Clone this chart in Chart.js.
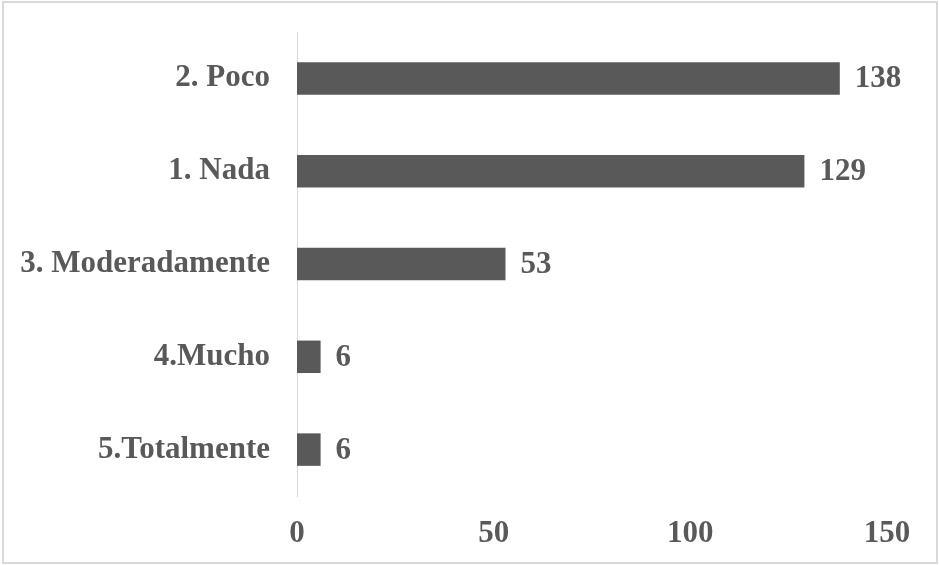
<!DOCTYPE html>
<html>
<head>
<meta charset="utf-8">
<script src="https://cdn.jsdelivr.net/npm/chart.js@4/dist/chart.umd.min.js"></script>
<style>
  body { margin: 0; background: #fff; }
  canvas { display: block; }
</style>
</head>
<body>
<canvas id="chart" width="939" height="565"></canvas>
<script>
const categories = ['2. Poco', '1. Nada', '3. Moderadamente', '4.Mucho', '5.Totalmente'];
const counts = [138, 129, 53, 6, 6];
const xTicks = [0, 50, 100, 150];

const textColor = '#595959';
const barColor = '#595959';
const font = { family: '"Liberation Serif", "Times New Roman", serif', size: 31, weight: 'bold' };

// light frame round the whole chart
const framePlugin = {
    id: 'frame',
    beforeDraw(chart) {
        const c = chart.ctx;
        c.save();
        c.fillStyle = '#fff';
        c.fillRect(0, 0, chart.width, chart.height);
        c.strokeStyle = '#d9d9d9';
        c.lineWidth = 2;
        c.strokeRect(3, 2, chart.width - 5, chart.height - 4);
        c.restore();
    }
};

// value written just past the end of each bar
const valueLabels = {
    id: 'valueLabels',
    afterDatasetsDraw(chart) {
        const c = chart.ctx;
        const meta = chart.getDatasetMeta(0);
        c.save();
        c.font = 'bold 31px "Liberation Serif", "Times New Roman", serif';
        c.fillStyle = textColor;
        c.textAlign = 'left';
        c.textBaseline = 'middle';
        meta.data.forEach((bar, i) => {
            c.fillText(String(counts[i]), bar.x + 15, bar.y + 1);
        });
        c.restore();
    }
};

const ctx = document.getElementById('chart').getContext('2d');
const myChart = new Chart(ctx, {
    type: 'bar',
    data: {
        labels: categories,
        datasets: [{ data: counts, backgroundColor: barColor, barPercentage: 0.35, categoryPercentage: 1 }]
    },
    options: {
        indexAxis: 'y',
        responsive: false,
        animation: false,
        layout: { padding: { top: 32, right: 52, left: 0, bottom: 0 } },
        plugins: { legend: { display: false }, tooltip: { enabled: false } },
        scales: {
            x: {
                min: 0,
                max: 150,
                afterBuildTicks: (scale) => { scale.ticks = xTicks.map(v => ({ value: v })); },
                afterFit: (scale) => { scale.height = 69; },
                grid: { display: false, drawTicks: false },
                border: { display: false },
                ticks: { color: textColor, font: font, padding: 19, maxRotation: 0 }
            },
            y: {
                afterFit: (scale) => {
                    scale.width = 297;
                    scale.paddingTop = 0;
                    scale.paddingBottom = 0;
                },
                grid: { display: false, drawTicks: false },
                border: { display: true, color: '#d9d9d9', width: 1 },
                ticks: { color: textColor, font: font, padding: 27 }
            }
        }
    },
    plugins: [framePlugin, valueLabels]
});
</script>
</body>
</html>
